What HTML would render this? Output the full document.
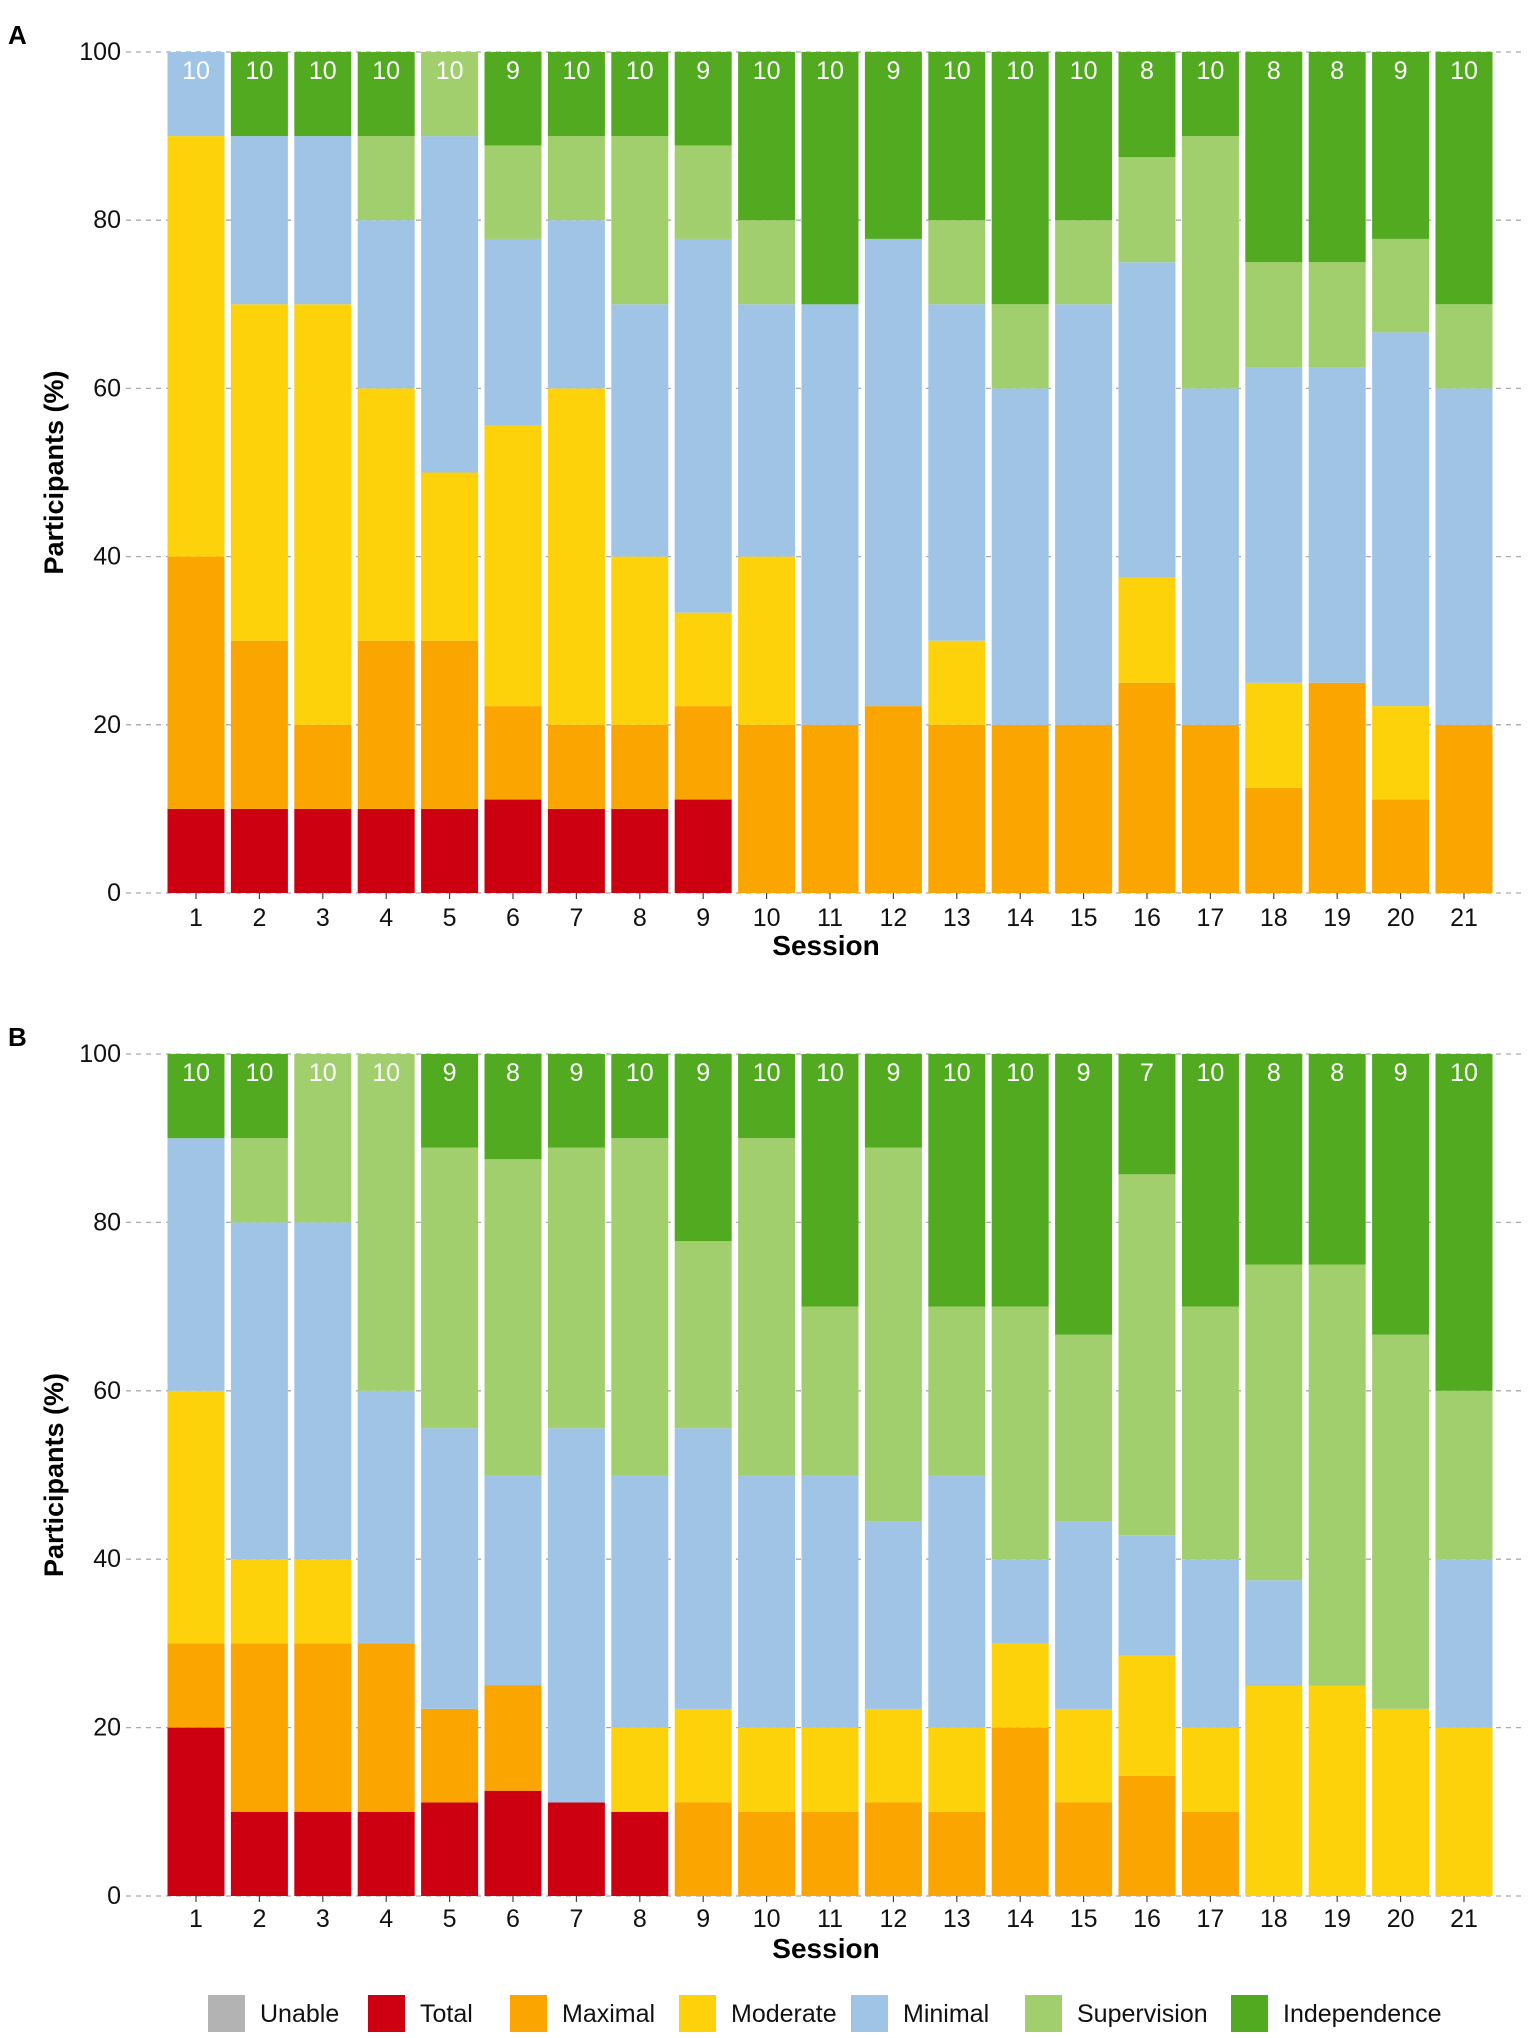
<!DOCTYPE html>
<html><head><meta charset="utf-8"><style>
html,body{margin:0;padding:0;background:#fff}
svg{display:block;font-family:"Liberation Sans",Arial,sans-serif}
</style></head><body>
<svg id="chart" width="1535" height="2038" viewBox="0 0 1535 2038" xmlns="http://www.w3.org/2000/svg"></svg>
<script>
const sessions = [1,2,3,4,5,6,7,8,9,10,11,12,13,14,15,16,17,18,19,20,21];
const categories = ["Unable","Total","Maximal","Moderate","Minimal","Supervision","Independence"];
const colors = ["#b3b3b3","#cc0010","#fba500","#fdd20a","#a0c4e6","#a2cf6e","#52aa21"];
const yTicks = [0,20,40,60,80,100];
// Panel A counts per category
const aUnable = [0,0,0,0,0,0,0,0,0,0,0,0,0,0,0,0,0,0,0,0,0];
const aTotal  = [1,1,1,1,1,1,1,1,1,0,0,0,0,0,0,0,0,0,0,0,0];
const aMax    = [3,2,1,2,2,1,1,1,1,2,2,2,2,2,2,2,2,1,2,1,2];
const aMod    = [5,4,5,3,2,3,4,2,1,2,0,0,1,0,0,1,0,1,0,1,0];
const aMin    = [1,2,2,2,4,2,2,3,4,3,5,5,4,4,5,3,4,3,3,4,4];
const aSup    = [0,0,0,1,1,1,1,2,1,1,0,0,1,1,1,1,3,1,1,1,1];
const aInd    = [0,1,1,1,0,1,1,1,1,2,3,2,2,3,2,1,1,2,2,2,3];
// Panel B counts per category
const bUnable = [0,0,0,0,0,0,0,0,0,0,0,0,0,0,0,0,0,0,0,0,0];
const bTotal  = [2,1,1,1,1,1,1,1,0,0,0,0,0,0,0,0,0,0,0,0,0];
const bMax    = [1,2,2,2,1,1,0,0,1,1,1,1,1,2,1,1,1,0,0,0,0];
const bMod    = [3,1,1,0,0,0,0,1,1,1,1,1,1,1,1,1,1,2,2,2,2];
const bMin    = [3,4,4,3,3,2,4,3,3,3,3,2,3,1,2,1,2,1,0,0,2];
const bSup    = [0,1,2,4,3,3,3,4,2,4,2,4,2,3,2,3,3,3,4,4,2];
const bInd    = [1,1,0,0,1,1,1,1,2,1,3,1,3,3,3,1,3,2,2,3,4];

const NS="http://www.w3.org/2000/svg";
const svg=document.getElementById('chart');
function mk(tag,attrs,parent,text){const e=document.createElementNS(NS,tag);for(const k in attrs)e.setAttribute(k,attrs[k]);if(text!==undefined)e.textContent=text;(parent||svg).appendChild(e);return e;}

function panel(letter, top, zero, series, tickY, titleY){
  const g=mk('g',{});
  
  
  const x0=196, pitch=63.4, bw=57;
  const xs=i=>x0+i*pitch;
  const ys=v=>zero-(v/100)*(zero-top);
  const lt=mk('text',{x:8,y:top-8,'font-size':26,'font-weight':'bold',fill:'#000'},g,letter);
  
  
  yTicks.forEach(t=>{
    const y=ys(t);
    const gl=mk('line',{x1:126,x2:1523,y1:y,y2:y,stroke:'#aaa','stroke-width':1.3,'stroke-dasharray':'5,5'},g);
    
    
    const tl=mk('text',{x:121,y:y+8,'font-size':25,'text-anchor':'end',fill:'#111'},g,String(t));
    
    
  });
  sessions.forEach((s,i)=>{
    const n=series.reduce((a,arr)=>a+arr[i],0);
    let cum=0;
    series.forEach((arr,c)=>{
      if(!arr[i])return;
      const v0=cum/n*100; cum+=arr[i]; const v1=cum/n*100;
      const r=mk('rect',{x:xs(i)-bw/2,y:ys(v1),width:bw,height:ys(v0)-ys(v1),fill:colors[c]},g);
      
      
    });
    const nl=mk('text',{x:xs(i),y:ys(100)+27,'font-size':25,'text-anchor':'middle',fill:'#fff'},g,String(n));
    
    
    const tk=mk('line',{x1:xs(i),x2:xs(i),y1:zero,y2:zero+6,stroke:'#444','stroke-width':1.2},g);
    
    
    const xl=mk('text',{x:xs(i),y:tickY,'font-size':25,'text-anchor':'middle',fill:'#111'},g,String(s));
    
    
  });
  const xt=mk('text',{x:826,y:titleY,'font-size':28,'font-weight':'bold','text-anchor':'middle',fill:'#000'},g,'Session');
  
  
  const cy=(top+zero)/2;
  const yt=mk('text',{x:0,y:0,'font-size':27,'font-weight':'bold','text-anchor':'middle',fill:'#000',transform:`translate(63,${cy}) rotate(-90)`},g,'Participants (%)');
  
  
}
panel('A',52,893,[aUnable,aTotal,aMax,aMod,aMin,aSup,aInd],926,955);
panel('B',1054,1896,[bUnable,bTotal,bMax,bMod,bMin,bSup,bInd],1927,1958);

const legX=[208,368,510,679,851,1025,1231];
const lg=mk('g',{});


categories.forEach((c,i)=>{
  const r=mk('rect',{x:legX[i],y:1995,width:37,height:37,fill:colors[i]},lg);
  
  
  const t=mk('text',{x:legX[i]+52,y:2022,'font-size':25,fill:'#111'},lg,c);
  
  
});
</script>
</body></html>
